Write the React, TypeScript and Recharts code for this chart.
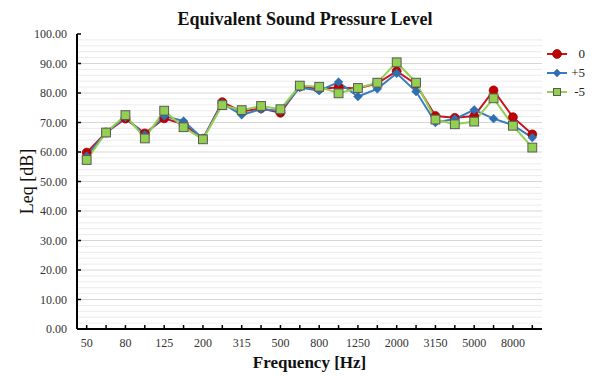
import React from 'react';
import { LineChart, Line, XAxis, YAxis, ReferenceLine } from 'recharts';

const frequencies = ['50', '63', '80', '100', '125', '160', '200', '250', '315', '400', '500', '630', '800', '1000', '1250', '1600', '2000', '2500', '3150', '4000', '5000', '6300', '8000', '10000'];
const series0 = [59.8, 66.6, 71.3, 66.3, 71.4, 69.4, 64.5, 76.9, 73.7, 74.8, 73.3, 82.2, 81.4, 81.9, 81.5, 83.3, 87.4, 83.0, 72.2, 71.6, 72.2, 80.9, 71.8, 66.0];
const seriesPlus5 = [58.6, 66.6, 71.8, 65.8, 72.2, 70.5, 64.5, 76.5, 72.6, 74.5, 74.0, 81.9, 80.8, 83.7, 78.8, 81.4, 86.7, 80.5, 70.0, 71.2, 74.3, 71.3, 69.1, 64.9];
const seriesMinus5 = [57.3, 66.6, 72.5, 64.6, 74.0, 68.4, 64.3, 75.9, 74.2, 75.6, 74.5, 82.5, 82.1, 79.9, 81.7, 83.5, 90.4, 83.5, 71.0, 69.4, 70.3, 78.2, 68.9, 61.5];
const seriesNames = ['0', '+5', '-5'];
const yTicks = [0, 10, 20, 30, 40, 50, 60, 70, 80, 90, 100];
const minorGrid = [2, 4, 6, 8, 10, 12, 14, 16, 18, 20, 22, 24, 26, 28, 30, 32, 34, 36, 38, 40, 42, 44, 46, 48, 50, 52, 54, 56, 58, 60, 62, 64, 66, 68, 70, 72, 74, 76, 78, 80, 82, 84, 86, 88, 90, 92, 94, 96, 98];

const data = frequencies.map((f, i) => ({
  freq: f,
  s0: series0[i],
  sp5: seriesPlus5[i],
  sm5: seriesMinus5[i],
}));

const FONT = '"Liberation Serif", "Times New Roman", serif';
const RED = '#C8141E';
const RED_DOT = '#C00000';
const BLUE = '#3A7CC0';
const BLUE_DOT = '#2F6FB0';
const GREEN = '#92D050';

const RedDot = (p: any) => {
  if (p.cx == null || p.cy == null) return <g key={p.index} />;
  return <circle key={`r${p.index}`} cx={p.cx} cy={p.cy} r={4.4} fill={RED_DOT} stroke="#A00000" strokeWidth={0.8} />;
};
const BlueDot = (p: any) => {
  if (p.cx == null || p.cy == null) return <g key={p.index} />;
  const s = 4.4;
  return (
    <polygon
      key={`b${p.index}`}
      points={`${p.cx},${p.cy - s} ${p.cx + s},${p.cy} ${p.cx},${p.cy + s} ${p.cx - s},${p.cy}`}
      fill={BLUE_DOT}
      stroke={BLUE_DOT}
      strokeWidth={0.5}
    />
  );
};
const GreenDot = (p: any) => {
  if (p.cx == null || p.cy == null) return <g key={p.index} />;
  const s = 4.4;
  return <rect key={`g${p.index}`} x={p.cx - s} y={p.cy - s} width={2 * s} height={2 * s} fill={GREEN} stroke="#5A5A5A" strokeWidth={1} />;
};

const XTick = (props: any) => {
  const { x, y, payload } = props;
  const idx = payload && payload.index != null ? payload.index : props.index;
  return (
    <g>
      <line x1={x} x2={x} y1={y} y2={y - 4} stroke="#000" strokeWidth={1.5} />
      {idx % 2 === 0 ? (
        <text x={x} y={y + 18} textAnchor="middle" fontFamily={FONT} fontSize={12} fill="#333">
          {payload.value}
        </text>
      ) : null}
    </g>
  );
};

const YTick = (props: any) => {
  const { x, y, payload } = props;
  return (
    <g>
      <line x1={x} x2={x + 4} y1={y} y2={y} stroke="#000" strokeWidth={1.5} />
      <text x={x - 10} y={y + 4} textAnchor="end" fontFamily={FONT} fontSize={12} fill="#333">
        {Number(payload.value).toFixed(2)}
      </text>
    </g>
  );
};

const XLabel = (props: any) => {
  const vb = props.viewBox || { x: 77, y: 329, width: 465, height: 47 };
  return (
    <text x={vb.x + vb.width / 2} y={vb.y + 39} textAnchor="middle" fontFamily={FONT} fontSize={17} fontWeight="bold" fill="#111">
      Frequency [Hz]
    </text>
  );
};

const YLabel = (props: any) => {
  const vb = props.viewBox || { x: 0, y: 34, width: 77, height: 295 };
  const cx = vb.x + 33;
  const cy = vb.y + vb.height / 2;
  return (
    <text x={cx} y={cy} transform={`rotate(-90, ${cx}, ${cy})`} textAnchor="middle" fontFamily={FONT} fontSize={18} fill="#111">
      Leq [dB]
    </text>
  );
};

const legendItems = [
  { name: seriesNames[0], color: RED, kind: 'circle' },
  { name: seriesNames[1], color: BLUE, kind: 'diamond' },
  { name: seriesNames[2], color: GREEN, kind: 'square' },
];

const LegendBox = () => (
  <div style={{ position: 'absolute', left: 546, top: 44, fontFamily: FONT, fontSize: 13, color: '#222' }}>
    {legendItems.map((it) => (
      <div key={it.name} style={{ display: 'flex', alignItems: 'center', height: 19 }}>
        <svg width={22} height={12} style={{ display: 'block' }}>
          <line x1={1} x2={21} y1={6} y2={6} stroke={it.color} strokeWidth={2} />
          {it.kind === 'circle' && <circle cx={11} cy={6} r={4.4} fill={RED_DOT} stroke="#A00000" strokeWidth={0.8} />}
          {it.kind === 'diamond' && <polygon points="11,1.8 15.2,6 11,10.2 6.8,6" fill={BLUE_DOT} />}
          {it.kind === 'square' && <rect x={7.5} y={2.5} width={7} height={7} fill={GREEN} stroke="#5A5A5A" strokeWidth={1} />}
        </svg>
        <span style={{ width: 17, textAlign: 'right', display: 'inline-block', lineHeight: '19px' }}>{it.name}</span>
      </div>
    ))}
  </div>
);

export default function App() {
  return (
    <div style={{ position: 'absolute', left: 0, top: 0, width: 594, height: 376, background: '#fff' }}>
      <div
        style={{
          position: 'absolute',
          top: 9,
          left: 0,
          width: 610,
          textAlign: 'center',
          fontFamily: FONT,
          fontSize: 18,
          fontWeight: 'bold',
          lineHeight: '20px',
          color: '#111',
        }}
      >
        Equivalent Sound Pressure Level
      </div>
      <LineChart width={594} height={376} data={data} margin={{ top: 34, right: 52, left: 0, bottom: 0 }}>
        {minorGrid.map((v) => (
          <ReferenceLine key={v} y={v} stroke={v % 10 === 0 ? '#d6d6d6' : '#ebebeb'} strokeWidth={1} />
        ))}
        <XAxis
          dataKey="freq"
          scale="band"
          interval={0}
          height={47}
          tickLine={false}
          tickSize={0}
          tickMargin={0}
          tick={<XTick />}
          axisLine={{ stroke: '#000', strokeWidth: 2 }}
          label={<XLabel />}
        />
        <XAxis
          xAxisId="top"
          dataKey="freq"
          scale="band"
          orientation="top"
          height={0}
          tick={false}
          tickLine={false}
          axisLine={{ stroke: '#222', strokeWidth: 1.5 }}
        />
        <YAxis
          domain={[0, 100]}
          ticks={yTicks}
          width={77}
          interval={0}
          tickLine={false}
          tickSize={0}
          tickMargin={0}
          tick={<YTick />}
          axisLine={{ stroke: '#000', strokeWidth: 2 }}
          label={<YLabel />}
        />
        <YAxis
          yAxisId="right"
          orientation="right"
          domain={[0, 100]}
          width={0}
          tick={false}
          tickLine={false}
          axisLine={{ stroke: '#8a8a8a', strokeWidth: 1.5 }}
        />
        <Line dataKey="s0" name={seriesNames[0]} stroke={RED} strokeWidth={2} dot={RedDot} activeDot={false} isAnimationActive={false} />
        <Line dataKey="sp5" name={seriesNames[1]} stroke={BLUE} strokeWidth={2} dot={BlueDot} activeDot={false} isAnimationActive={false} />
        <Line dataKey="sm5" name={seriesNames[2]} stroke={GREEN} strokeWidth={2} dot={GreenDot} activeDot={false} isAnimationActive={false} />
      </LineChart>
      <LegendBox />
    </div>
  );
}
